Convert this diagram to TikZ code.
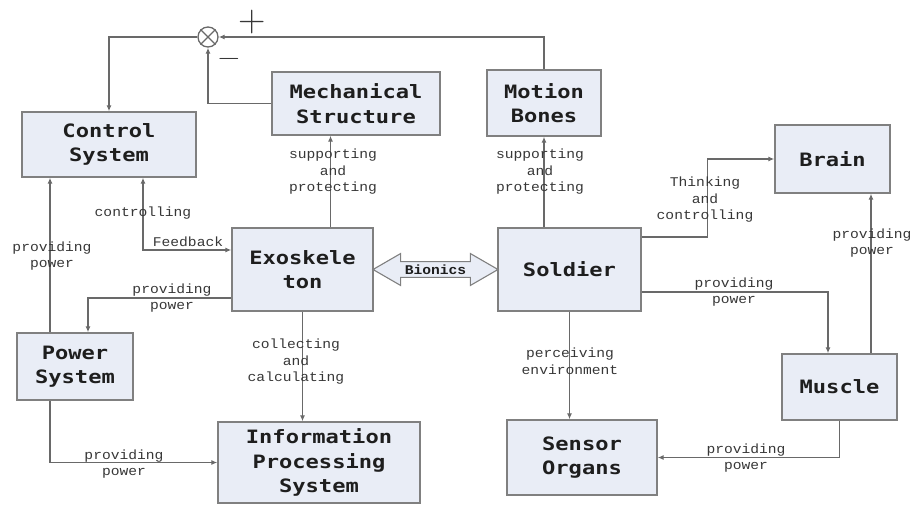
\documentclass[tikz,border=0pt]{standalone}
\usepackage{fontspec}
\usetikzlibrary{arrows.meta,shapes.arrows,calc}
\newfontfamily\boxfont{DejaVu Sans Mono Bold}[FakeStretch=1.2]
\newfontfamily\lblfont{Liberation Mono}[FakeStretch=1.1]
\definecolor{boxFill}{RGB}{233,237,246}
\definecolor{boxLine}{RGB}{128,128,128}
\definecolor{lineGray}{RGB}{105,105,105}
\definecolor{textDark}{RGB}{30,30,30}
\definecolor{textGray}{RGB}{55,55,55}
\begin{document}
\begin{tikzpicture}
[x=1pt,y=-1pt,
  blockBox/.style={draw=boxLine,fill=boxFill,line width=1.4pt,align=center,inner sep=0pt,
    text=textDark,font=\boxfont\fontsize{18.4}{24.5}\selectfont},%
  lblText/.style={align=center,inner sep=0pt,text=textGray,
    font=\lblfont\fontsize{13.3}{16.5}\selectfont},%
  flowLine/.style={draw=lineGray,line width=1.3pt},%
  toArrow/.style={-{Latex[length=6pt,width=5pt]}},%
  bothArrow/.style={{Latex[length=6pt,width=5pt]}-{Latex[length=6pt,width=5pt]}},%
  bionicArrow/.style={double arrow,draw=boxLine,fill=boxFill,line width=1.1pt,
    minimum height=125pt,double arrow head extend=8pt,double arrow tip angle=60,
    inner xsep=0pt,inner ysep=2.5pt,text=textDark,font=\lblfont\bfseries\fontsize{13.3}{16}\selectfont}]
\useasboundingbox (0,0) rectangle (913,506);
%% blocks
\foreach \nodename/\x/\y/\w/\h/\txt in {ctrl/109/144.5/174/65/{Control\\System},
  mech/356/103.5/168/63/{Mechanical\\Structure}, bones/544/103/114/66/{Motion\\Bones},
  brain/832.5/159/115/68/{Brain}, exo/302.5/269.5/141/83/{Exoskele\\ton},
  soldier/569.5/269.5/143/83/{Soldier}, power/75/366.5/116/67/{Power\\System},
  info/319/462.5/202/81/{Information\\Processing\\System},
  sensor/582/457.5/150/75/{Sensor\\Organs}, muscle/839.5/387/115/66/{Muscle}}
{
  \node (\nodename) at (\x,\y) [blockBox,minimum width=\w,minimum height=\h] {\txt};
}
%% summing point
\node (sum) at (208,37) [circle,draw=lineGray,line width=1.3pt,minimum size=20pt,inner sep=0pt] {};
\draw[flowLine] (sum.north west) -- (sum.south east) (sum.north east) -- (sum.south west);
\node (plusSign) at (252,22) [inner sep=0pt,text=textGray,font=\fontsize{38}{38}\selectfont] {+};
\node (minusSign) at (229,62) [inner sep=0pt,text=textGray,font=\fontsize{30}{30}\selectfont] {−};
%% feedback loop
\draw[flowLine,toArrow] (bones.north) |- (sum.east);
\draw[flowLine,toArrow] (sum.west) -| (ctrl.north);
\draw[flowLine,toArrow] (mech.west) -| (sum.south);
%% exoskeleton side
\draw[flowLine,toArrow] ([xshift=28pt]exo.north) -- ([xshift=28pt]exo.north |- mech.south);
\draw[flowLine,toArrow] (exo.south) -- (exo.south |- info.north);
\draw[flowLine,toArrow] ([xshift=-25pt]power.north) -- ([xshift=-25pt]power.north |- ctrl.south);
\draw[flowLine,bothArrow] ([xshift=34pt]ctrl.south) |- ([yshift=19.5pt]exo.west);
\draw[flowLine,toArrow] ([yshift=-28.5pt]exo.west) -| ([xshift=13pt]power.north);
\draw[flowLine,toArrow] ([xshift=-25pt]power.south) |- (info.west);
%% soldier side
\draw[flowLine,toArrow] ([xshift=-25.5pt]soldier.north) -- ([xshift=-25.5pt]soldier.north |- bones.south);
\draw[flowLine,toArrow] ([yshift=32.5pt]soldier.east) -- ++(66,0) |- (brain.west);
\draw[flowLine,toArrow] ([yshift=-22.5pt]soldier.east) -| ([xshift=-11.5pt]muscle.north);
\draw[flowLine,toArrow] ([xshift=31.5pt]muscle.north) -- ([xshift=31.5pt]muscle.north |- brain.south);
\draw[flowLine,toArrow] (soldier.south) -- (soldier.south |- sensor.north);
\draw[flowLine,toArrow] (muscle.south) |- (sensor.east);
%% bionics
\node (bionics) at ($(exo.east)!0.5!(soldier.west)$) [bionicArrow] {Bionics};
%% labels
\foreach \lblname/\x/\y/\txt in {lblPowCtrl/52/256/{providing\\power},
  lblCtrl/143/213/{controlling}, lblFeed/188/242/{Feedback},
  lblMech/333/172/{supporting\\and\\protecting}, lblExoPow/172/298/{providing\\power},
  lblInfo/296/362/{collecting\\and\\calculating}, lblPowInfo/124/464/{providing\\power},
  lblBones/540/172/{supporting\\and\\protecting}, lblBrain/705/200/{Thinking\\and\\controlling},
  lblMusBrain/872/243/{providing\\power}, lblSolMus/734/292/{providing\\power},
  lblSensor/570/361/{perceiving\\environment}, lblMusSen/746/458/{providing\\power}}
{
  \node (\lblname) at (\x,\y) [lblText] {\txt};
}
\end{tikzpicture}
\end{document}
